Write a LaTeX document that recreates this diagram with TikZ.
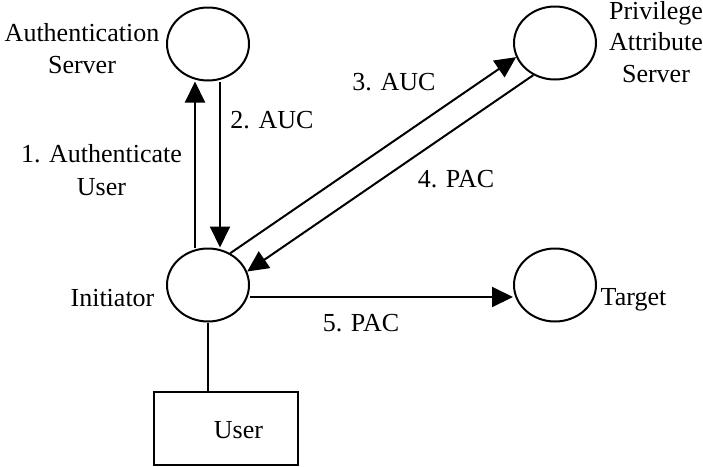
\documentclass[tikz,border=0pt]{standalone}
\usepackage{fontspec}
\setmainfont{Liberation Serif}
\usetikzlibrary{arrows.meta,shapes.geometric}
\usetikzlibrary{positioning}

\tikzset{
  party/.style={draw, line width=2pt, ellipse, minimum width=82pt, minimum height=73pt, inner sep=0pt},
  userbox/.style={draw, line width=2pt, rectangle, minimum width=144pt, minimum height=73pt, inner sep=0pt},
  msg/.style={line width=2pt, -{Triangle[length=21pt, width=20pt]}},
  lbl/.style={inner sep=0pt, anchor=base, align=center}
}

\begin{document}
\begin{tikzpicture}[x=1pt, y=-1pt, font=\fontsize{26}{31.5}\selectfont]
      \useasboundingbox (0,0) rectangle (703,466);

      % Entidades
      \node[party] (auth) at (208,44) {};
      \node[party] (pas) at (555,43) {};
      \node[party] (init) at (208,285) {};
      \node[party] (target) at (555,285) {};
      \node[userbox] (user) at (226,428.5) {};

      % Nomes (base = ultima linha)
      \node[lbl] at (82,73) {Authentication\\Server};
      \node[lbl] at (656,82) {Privilege\\Attribute\\Server};
      \node[lbl] at (112.5,306) {Initiator};
      \node[lbl] at (633.5,305) {Target};
      \node[lbl] at (238.5,438) {User};

      % Mensagens
      \draw[msg] ([xshift=-13pt]init.north) -- ([xshift=-13pt]auth.south);
      \draw[msg] ([xshift=12pt]auth.south) -- ([xshift=12pt]init.north);
      \draw[msg] (init.55) -- (pas.200);
      \draw[msg] (pas.236) -- (init.19);
      \draw[msg] ([yshift=-12pt]init.east) -- ([yshift=-12pt]target.west);

      \node[lbl] at (101.5,195) {1. Authenticate\\[1.5pt]User};
      \node[lbl] at (272,128) {2. AUC};
      \node[lbl] at (394,90) {3. AUC};
      \node[lbl] at (456,187) {4. PAC};
      \node[lbl] at (361,331) {5. PAC};

      % Ligacao ao utilizador
      \draw[line width=2pt] (init.south) -- (init.south |- user.north);
\end{tikzpicture}
\end{document}
